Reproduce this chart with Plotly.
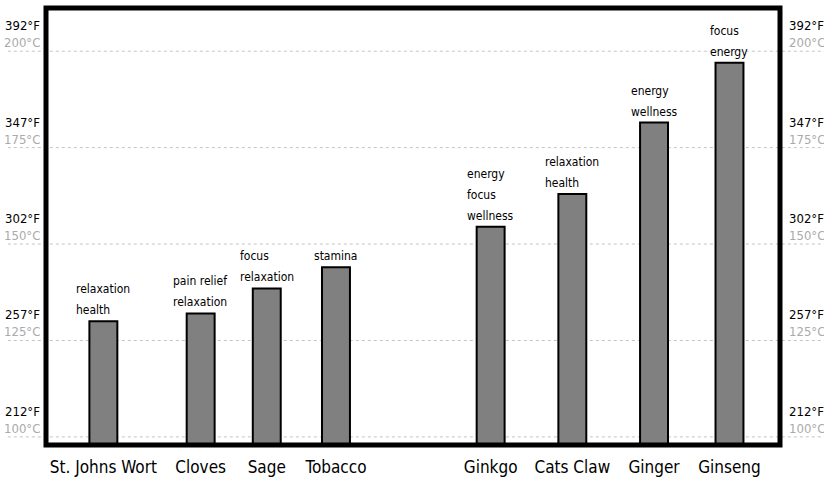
import plotly.graph_objects as go

# ---- data ----
herbs = ["St. Johns Wort", "Cloves", "Sage", "Tobacco",
         "Ginkgo", "Cats Claw", "Ginger", "Ginseng"]
temps_c = [130, 132, 138.5, 144, 154.5, 163, 181.5, 197]
effects = ["relaxation<br>health", "pain relief<br>relaxation", "focus<br>relaxation",
           "stamina", "energy<br>focus<br>wellness", "relaxation<br>health",
           "energy<br>wellness", "focus<br>energy"]
tick_c = [100, 125, 150, 175, 200]
group_sizes = [4, 4]   # two groups of herbs with a wider gap between them

# ---- layout helpers: bars are spaced by the length of their labels ----
LABEL_GAP = 5.6        # gap between neighbouring labels (in character units)
GROUP_GAP = 12.7       # extra gap between the two groups
xpos = []
cur = 0.0
for i, h in enumerate(herbs):
    if i > 0:
        cur += len(herbs[i - 1]) / 2 + LABEL_GAP + len(h) / 2
        if i == group_sizes[0]:
            cur += GROUP_GAP
    xpos.append(cur)

FONT = "DejaVu Sans Condensed, Liberation Sans Narrow, sans-serif"

fig = go.Figure()
fig.add_trace(go.Bar(
    x=xpos, y=temps_c, width=4.48,
    marker=dict(color="#808080", line=dict(color="black", width=2)),
    hoverinfo="skip",
))

# gridlines (dotted, across the full width)
for c in tick_c:
    fig.add_shape(type="line", xref="paper", yref="y",
                  x0=-0.052, x1=1.07, y0=c, y1=c,
                  line=dict(color="#c4c4c4", width=1, dash="dot"), layer="below")

# temperature labels on both sides
for c in tick_c:
    f = round(c * 9 / 5 + 32)
    for side in (0, 1):
        kw = dict(xref="paper", yref="y", x=side, y=c, showarrow=False,
                  xanchor="right" if side == 0 else "left",
                  xshift=-4 if side == 0 else 7, yanchor="bottom")
        fig.add_annotation(text=f"{c}°C", font=dict(family=FONT, size=13, color="#aaaaaa"),
                           yshift=-1, **kw)
        fig.add_annotation(text=f"{f}°F", font=dict(family=FONT, size=13, color="black"),
                           yshift=16, **kw)

# effect labels above bars (bigger base size gives the wider line spacing)
for x, t, e in zip(xpos, temps_c, effects):
    fig.add_annotation(x=x, y=t, text=f"<span style='font-size:12px'>{e}</span>",
                       showarrow=False, align="left",
                       xanchor="center", yanchor="bottom", yshift=2,
                       font=dict(family=FONT, size=16, color="black"))

# thick frame
fig.add_shape(type="rect", xref="paper", yref="paper", x0=0, x1=1, y0=0, y1=1,
              line=dict(color="black", width=5), layer="above")

fig.update_layout(
    width=824, height=483,
    margin=dict(l=45.5, r=43.5, t=7.5, b=37.5, autoexpand=False),
    paper_bgcolor="white", plot_bgcolor="white",
    showlegend=False,
    xaxis=dict(range=[xpos[0] - 9.2, xpos[-1] + 8.1],
               tickmode="array", tickvals=xpos, ticktext=herbs,
               showgrid=False, zeroline=False, showline=False,
               ticks="", tickangle=0, automargin=False, ticklabelstandoff=10,
               tickfont=dict(family=FONT, size=17, color="black")),
    yaxis=dict(range=[97.9, 211.2], showgrid=False, zeroline=False,
               showticklabels=False, showline=False, automargin=False),
)

fig.write_html("out.html", config={"displayModeBar": False},
               post_script="document.body.style.margin='0';document.body.style.overflow='hidden';")
